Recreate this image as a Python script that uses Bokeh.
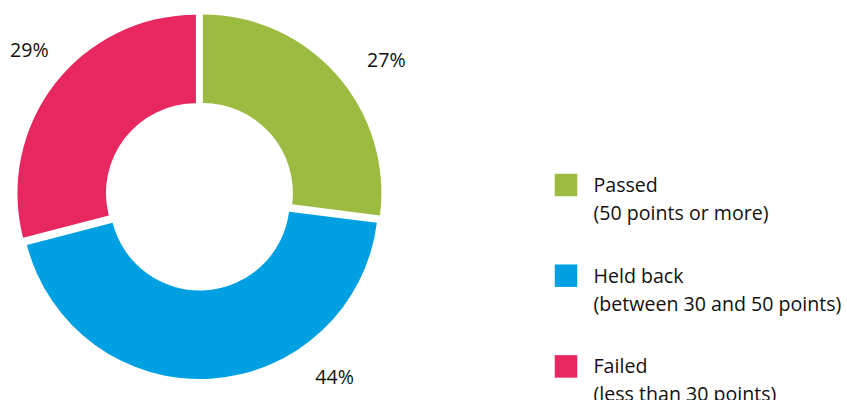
import numpy as np
from bokeh.plotting import figure
from bokeh.models import Range1d, ColumnDataSource
from bokeh.core.properties import value
from bokeh.embed import file_html
from bokeh.resources import INLINE

# ---- data ----
categories = ["Passed", "Held back", "Failed"]
descriptions = ["(50 points or more)", "(between 30 and 50 points)", "(less than 30 points)"]
shares = [27, 44, 29]
colors = ["#9bbb41", "#00a0e2", "#e8265f"]

# ---- layout (pixels; y axis points up) ----
W, H = 847, 400
cx, cy = 199.0, H - 195.5
r_out, r_in = 178.5, 90.0
explode = 4.5
label_angles_deg = [35.7, -53.5, 139.7]
label_radius = [230, 227, 223]
font_px = "19.6px"

fracs = np.array(shares, dtype=float) / sum(shares)
cum = np.concatenate([[0.0], np.cumsum(fracs)])
start = np.pi / 2 - 2 * np.pi * cum[:-1]
end = np.pi / 2 - 2 * np.pi * cum[1:]
mid = (start + end) / 2

src = ColumnDataSource(dict(
    x=cx + explode * np.cos(mid),
    y=cy + explode * np.sin(mid),
    start=start, end=end, color=colors,
))

p = figure(width=W, height=H, x_range=Range1d(0, W), y_range=Range1d(0, H),
           output_backend="svg", toolbar_location=None, min_border=0)
p.axis.visible = False
p.grid.visible = False
p.outline_line_color = None
p.background_fill_color = "white"
p.border_fill_color = "white"

p.annular_wedge(x="x", y="y", inner_radius=r_in, outer_radius=r_out,
                start_angle="start", end_angle="end", direction="clock",
                fill_color="color", line_color=None, source=src)

la = np.radians(label_angles_deg)
lbl = ColumnDataSource(dict(
    x=cx + np.array(label_radius) * np.cos(la),
    y=cy + np.array(label_radius) * np.sin(la) + 2,
    text=[f"{s}%" for s in shares],
))
p.text(x="x", y="y", text="text", source=lbl, text_align="center",
       text_baseline="middle", text_font=value("Open Sans"),
       text_font_size=value(font_px), text_color="#111111")

# legend
n = len(categories)
step = 90.7
sq_y = np.array([H - (184.5 + i * step) for i in range(n)])
p.rect(x=[565.5] * n, y=sq_y, width=22.5, height=22.5, fill_color=colors,
       line_color=None)
name_y = np.array([H - (184 + i * step) for i in range(n)])
desc_y = name_y - 28
leg = ColumnDataSource(dict(
    x=[593] * (2 * n),
    y=np.concatenate([name_y, desc_y]),
    text=categories + descriptions,
))
p.text(x="x", y="y", text="text", source=leg, text_align="left",
       text_baseline="alphabetic", text_font=value("Open Sans"),
       text_font_size=value(font_px), text_color="#111111")

open("out.html", "w").write(file_html(p, INLINE))
